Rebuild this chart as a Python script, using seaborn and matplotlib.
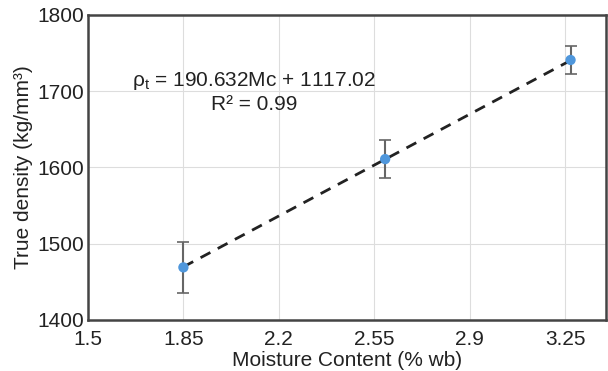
import numpy as np
import matplotlib
matplotlib.use("Agg")
import matplotlib.pyplot as plt
import seaborn as sns
import pandas as pd

# datos
moisture = [1.85, 2.59, 3.27]
density = [1469, 1611, 1741]
errors = [33, 25, 18]
slope = 190.632
intercept = 1117.02
xticks = [1.5, 1.85, 2.2, 2.55, 2.9, 3.25]
yticks = [1400, 1500, 1600, 1700, 1800]

sns.set_style("whitegrid", {"grid.color": "#dddddd", "axes.edgecolor": "#444444"})
plt.rcParams['font.family'] = ['Liberation Sans', 'DejaVu Sans']
plt.rcParams['mathtext.fontset'] = 'custom'
plt.rcParams['mathtext.rm'] = 'Liberation Sans'

df = pd.DataFrame({"x": moisture, "y": density})
fit = pd.DataFrame({"x": moisture, "y": [slope * m + intercept for m in moisture]})

fig = plt.figure(figsize=(6.08, 3.71), dpi=100)
ax = fig.add_axes([0.1447, 0.1375, 0.852, 0.8221])

# linea de ajuste
sns.lineplot(data=fit, x="x", y="y", ax=ax, color="#222222", linestyle=(0, (4, 3)),
             linewidth=2, zorder=3)
# barras de error
ax.errorbar(moisture, density, yerr=errors, fmt="none", ecolor="#666666",
            elinewidth=1.5, capsize=4, capthick=1.2, zorder=2)
sns.scatterplot(data=df, x="x", y="y", ax=ax, color="#4f97dc", s=55,
                edgecolor="none", zorder=4)

ax.set_xlim(1.5, 3.4)
ax.set_ylim(1400, 1800)
ax.set_xticks(xticks)
ax.set_xticklabels([str(t) for t in xticks])
ax.set_yticks(yticks)
ax.tick_params(labelsize=15, length=0, colors="#222222")
ax.tick_params(axis="x", pad=7)
ax.tick_params(axis="y", pad=3)
for s in ax.spines.values():
    s.set_linewidth(1.8)
    s.set_color("#444444")

ax.set_xlabel("Moisture Content (% wb)", fontsize=15, color="#222222", labelpad=2)
ax.set_ylabel("True density (kg/mm³)", fontsize=15, color="#222222", labelpad=3)

ax.text(2.11, 1713, r"ρ$_\mathregular{t}$ = 190.632Mc + 1117.02", fontsize=15,
        ha="center", va="center", color="#222222")
ax.text(2.11, 1682, "R² = 0.99", fontsize=15, ha="center", va="center", color="#222222")

fig.savefig("out.png", dpi=100)
